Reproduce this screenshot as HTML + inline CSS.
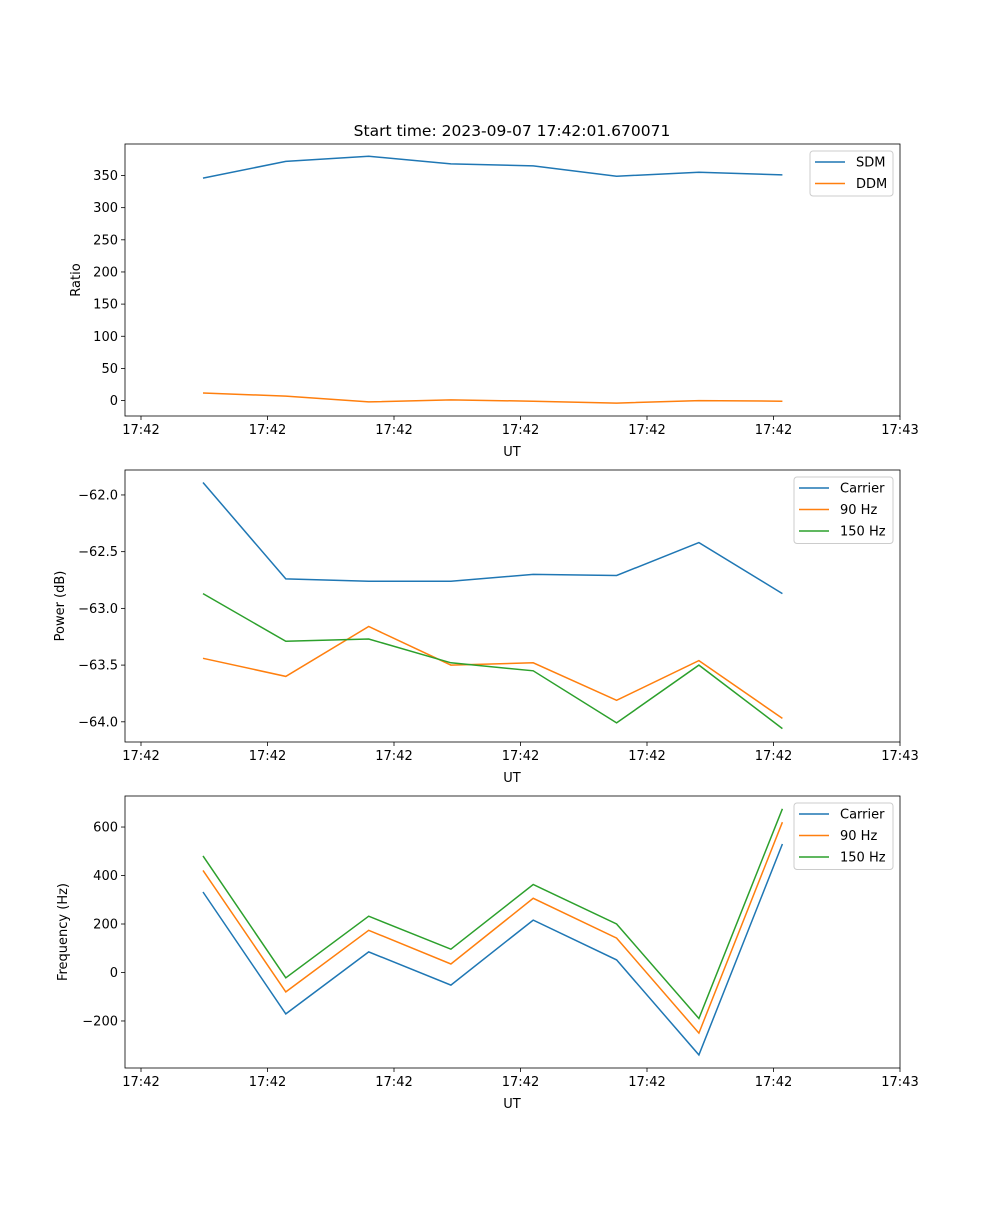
<!DOCTYPE html>
<html><head><meta charset="utf-8"><style>
body{margin:0;background:#fff}
svg{font-family:"DejaVu Sans","Liberation Sans",sans-serif;font-size:13px}
</style></head><body>
<svg id="fig" width="1000" height="1200" viewBox="0 0 1000 1200">
<rect width="1000" height="1200" fill="#fff"/>
<text x="512" y="136" text-anchor="middle" font-size="15.5">Start time: 2023-09-07 17:42:01.670071</text>
</svg>
<script>
const tickPos = [0,1,2,3,4,5,6];
const tickLabels = ["17:42","17:42","17:42","17:42","17:42","17:42","17:43"];
const times = [0.49,1.145,1.80,2.45,3.10,3.76,4.41,5.07];
const sdm = [346,372,380,368,365,349,355,351];
const ddm = [11.7,7,-2,1,-1,-4,0,-1];
const pCarrier = [-61.89,-62.74,-62.76,-62.76,-62.70,-62.71,-62.42,-62.87];
const p90 = [-63.44,-63.60,-63.16,-63.50,-63.48,-63.81,-63.46,-63.97];
const p150 = [-62.87,-63.29,-63.27,-63.48,-63.55,-64.01,-63.50,-64.06];
const fCarrier = [332,-171,85,-52,216,52,-340,530];
const f90 = [421,-80,174,35,306,142,-250,620];
const f150 = [481,-22,232,96,363,200,-190,675];
const yTicks1 = [0,50,100,150,200,250,300,350];
const yTicks2 = [-64.0,-63.5,-63.0,-62.5,-62.0];
const yTicks3 = [-200,0,200,400,600];

const NS="http://www.w3.org/2000/svg";
const svg=document.getElementById('fig');
function mk(tag,attrs,parent){const e=document.createElementNS(NS,tag);for(const k in attrs)e.setAttribute(k,attrs[k]);(parent||svg).appendChild(e);return e;}
const X0=125,X1=900;
function xs(t){return X0+(141-X0)+t*126.5;}
const C={b:'#1f77b4',o:'#ff7f0e',g:'#2ca02c'};

function panel(name,top,ymin,ymax,yt,fmt,ylabel,series,leg){
  const bot=top+272;
  const ys=v=>bot-(v-ymin)/(ymax-ymin)*272;
  const g=mk('g',{});
  
  
  series.forEach(s=>{
    const pts=s.vals.map((v,i)=>xs(times[i]).toFixed(1)+','+ys(v).toFixed(1)).join(' ');
    const p=mk('polyline',{points:pts,fill:'none',stroke:s.c,'stroke-width':1.5},g);
    
    
  });
  const fr=mk('rect',{x:X0,y:top,width:X1-X0,height:272,fill:'none',stroke:'#000','stroke-width':0.8},g);
  
  
  tickPos.forEach((t,i)=>{
    const x=xs(t);
    mk('line',{x1:x,x2:x,y1:bot,y2:bot+4,stroke:'#000','stroke-width':0.8},g);
    const tx=mk('text',{x:x,y:bot+18,'text-anchor':'middle'},g);tx.textContent=tickLabels[i];
    
    
  });
  const xl=mk('text',{x:512,y:bot+40,'text-anchor':'middle'},g);xl.textContent='UT';
  
  
  yt.forEach(v=>{
    const y=ys(v);
    mk('line',{x1:X0-4,x2:X0,y1:y,y2:y,stroke:'#000','stroke-width':0.8},g);
    const tx=mk('text',{x:X0-7,y:y+4.5,'text-anchor':'end'},g);tx.textContent=fmt(v);
    
    
  });
  const yx=leg.ylx, yy=top+136;
  const yl=mk('text',{x:yx,y:yy,'text-anchor':'middle',transform:`rotate(-90 ${yx} ${yy})`},g);yl.textContent=ylabel;
  
  
  const lg=mk('g',{},g);
  
  
  mk('rect',{x:leg.x,y:top+7,width:893-leg.x,height:series.length*21.5+2,rx:3,fill:'#fff',stroke:'#ccc','stroke-width':1},lg);
  series.forEach((s,i)=>{
    const y=top+18+i*21.5;
    mk('line',{x1:leg.x+5,x2:leg.x+35,y1:y,y2:y,stroke:s.c,'stroke-width':1.5},lg);
    const t=mk('text',{x:leg.x+46,y:y+4.5},lg);t.textContent=s.label;
    
    
  });
}
panel('ratio-panel',144,-24,399,yTicks1,v=>String(v),'Ratio',
  [{id:'sdm',vals:sdm,c:C.b,label:'SDM'},{id:'ddm',vals:ddm,c:C.o,label:'DDM'}],{x:810,ylx:80});
panel('power-panel',470,-64.178,-61.78,yTicks2,v=>v.toFixed(1).replace('-','−'),'Power (dB)',
  [{id:'power-carrier',vals:pCarrier,c:C.b,label:'Carrier'},{id:'power-90hz',vals:p90,c:C.o,label:'90 Hz'},{id:'power-150hz',vals:p150,c:C.g,label:'150 Hz'}],{x:794,ylx:64});
panel('frequency-panel',796,-394,728,yTicks3,v=>String(v).replace('-','−'),'Frequency (Hz)',
  [{id:'freq-carrier',vals:fCarrier,c:C.b,label:'Carrier'},{id:'freq-90hz',vals:f90,c:C.o,label:'90 Hz'},{id:'freq-150hz',vals:f150,c:C.g,label:'150 Hz'}],{x:794,ylx:67});
</script>
</body></html>
